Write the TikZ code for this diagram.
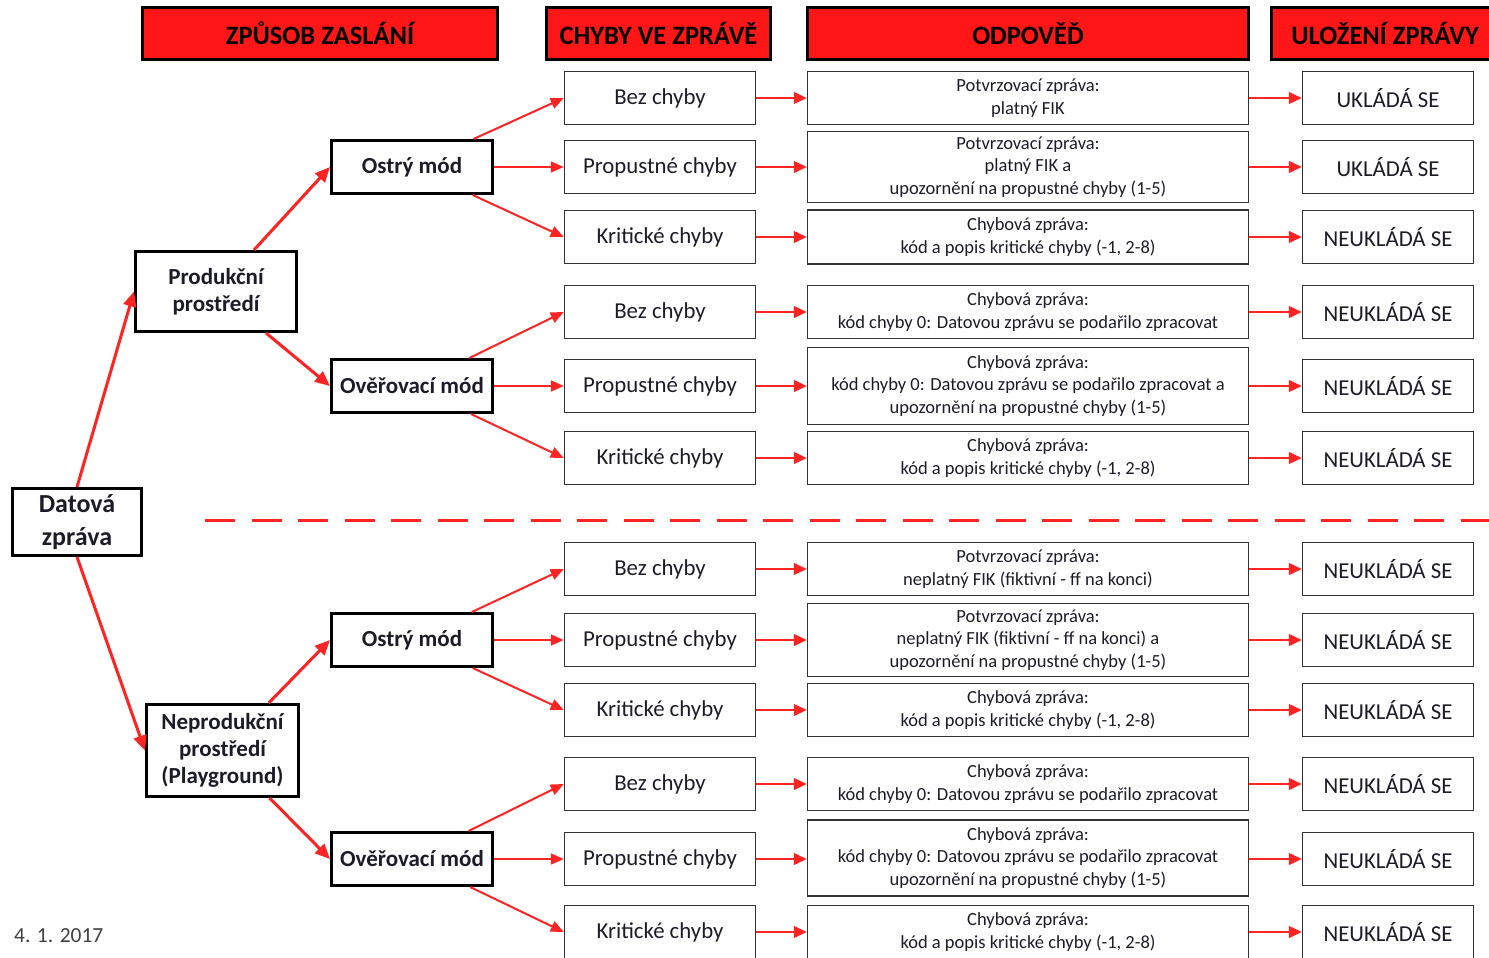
\documentclass[tikz,border=0pt]{standalone}
\usepackage{fontspec}
\setmainfont{Carlito}
\usetikzlibrary{arrows.meta}
\definecolor{hdrred}{RGB}{255,22,22}
\definecolor{arrred}{RGB}{255,36,36}
\definecolor{ink}{RGB}{28,28,40}
\tikzset{
  hdr/.style={draw=black,line width=3pt,fill=hdrred,minimum height=52pt,inner sep=0pt,
    font=\fontsize{26.5}{30}\selectfont\bfseries},
  envbox/.style={draw=black,line width=3pt,fill=white,align=center,inner sep=0pt,text=ink,
    font=\fontsize{23}{27}\selectfont\bfseries},
  errbox/.style={draw=black!80,line width=1.5pt,minimum width=191pt,minimum height=53pt,inner sep=0pt,
    text=ink,font=\fontsize{22.8}{26}\selectfont},
  respbox/.style={draw=black!80,line width=1.5pt,minimum width=441pt,align=center,inner sep=0pt,
    text=ink,font=\fontsize{18.5}{22.5}\selectfont},
  storebox/.style={draw=black!80,line width=1.5pt,minimum width=171pt,minimum height=53pt,inner sep=0pt,
    text=ink,font=\fontsize{22.8}{26}\selectfont},
  envarrow/.style={draw=arrred,line width=3pt,-{Triangle[length=15pt,width=13pt]}},
  modearrow/.style={draw=arrred,line width=2pt,-{Triangle[length=13pt,width=11pt]}},
  link/.style={draw=arrred,line width=1.5pt,-{Triangle[length=13pt,width=12pt]}},
}
\begin{document}
\begin{tikzpicture}[x=1pt,y=-1pt]
    \useasboundingbox (0,0) rectangle (1489,958);
    %% Headers
    \node[hdr,minimum width=355pt] (h1) at (320,33.5) {ZPŮSOB ZASLÁNÍ};
    \node[hdr,minimum width=224pt] (h2) at (658.5,33.5) {CHYBY VE ZPRÁVĚ};
    \node[hdr,minimum width=441pt] (h3) at (1028,33.5) {ODPOVĚĎ};
    \node[hdr,minimum width=228pt] (h4) at (1385,33.5) {ULOŽENÍ ZPRÁVY};
    %% Message and environments
    \node[envbox,minimum width=129pt,minimum height=67pt,font=\fontsize{26}{33}\selectfont\bfseries] (dat) at (77,522) {Datová\\zpráva};
    \node[envbox,minimum width=161pt,minimum height=80pt] (prod) at (216,291.5) {Produkční\\prostředí};
    \node[envbox,minimum width=152pt,minimum height=92pt] (neprod) at (222.5,750.5) {Neprodukční\\prostředí\\(Playground)};
    %% Modes
    \node[envbox,minimum width=161pt,minimum height=53pt] (m1) at (412,167) {Ostrý mód};
    \node[envbox,minimum width=161pt,minimum height=53pt] (m2) at (412,386) {Ověřovací mód};
    \node[envbox,minimum width=161pt,minimum height=53pt] (m3) at (412,640) {Ostrý mód};
    \node[envbox,minimum width=161pt,minimum height=53pt] (m4) at (412,859) {Ověřovací mód};
    %% Errors
    \foreach \i/\y/\lab in {1/98/Bez chyby,2/167/Propustné chyby,3/237/Kritické chyby,
                            4/312/Bez chyby,5/386/Propustné chyby,6/458/Kritické chyby,
                            7/569/Bez chyby,8/640/Propustné chyby,9/710/Kritické chyby,
                            10/784/Bez chyby,11/859/Propustné chyby,12/932/Kritické chyby}
        \node[errbox] (e\i) at (660,\y) {\lab};
    %% Responses
    \node[respbox,minimum height=53pt] (r1) at (1028,98) {Potvrzovací zpráva:\\platný FIK};
    \node[respbox,minimum height=71pt] (r2) at (1028,167) {Potvrzovací zpráva:\\platný FIK a\\upozornění na propustné chyby (1-5)};
    \node[respbox,minimum height=54pt] (r3) at (1028,237) {Chybová zpráva:\\kód a popis kritické chyby (-1, 2-8)};
    \node[respbox,minimum height=53pt] (r4) at (1028,312) {Chybová zpráva:\\kód chyby 0: Datovou zprávu se podařilo zpracovat};
    \node[respbox,minimum height=77pt] (r5) at (1028,386) {Chybová zpráva:\\kód chyby 0: Datovou zprávu se podařilo zpracovat a\\upozornění na propustné chyby (1-5)};
    \node[respbox,minimum height=53pt] (r6) at (1028,458) {Chybová zpráva:\\kód a popis kritické chyby (-1, 2-8)};
    \node[respbox,minimum height=53pt] (r7) at (1028,569) {Potvrzovací zpráva:\\neplatný FIK (fiktivní - ff na konci)};
    \node[respbox,minimum height=73pt] (r8) at (1028,640) {Potvrzovací zpráva:\\neplatný FIK (fiktivní - ff na konci) a\\upozornění na propustné chyby (1-5)};
    \node[respbox,minimum height=53pt] (r9) at (1028,710) {Chybová zpráva:\\kód a popis kritické chyby (-1, 2-8)};
    \node[respbox,minimum height=53pt] (r10) at (1028,784) {Chybová zpráva:\\kód chyby 0: Datovou zprávu se podařilo zpracovat};
    \node[respbox,minimum height=76pt] (r11) at (1028,858) {Chybová zpráva:\\kód chyby 0: Datovou zprávu se podařilo zpracovat\\upozornění na propustné chyby (1-5)};
    \node[respbox,minimum height=53pt] (r12) at (1028,932) {Chybová zpráva:\\kód a popis kritické chyby (-1, 2-8)};
    %% Storage
    \foreach \i/\y/\lab in {1/98/UKLÁDÁ SE,2/167/UKLÁDÁ SE,3/237/NEUKLÁDÁ SE,
                            4/312/NEUKLÁDÁ SE,5/386/NEUKLÁDÁ SE,6/458/NEUKLÁDÁ SE,
                            7/569/NEUKLÁDÁ SE,8/640/NEUKLÁDÁ SE,9/710/NEUKLÁDÁ SE,
                            10/784/NEUKLÁDÁ SE,11/859/NEUKLÁDÁ SE,12/932/NEUKLÁDÁ SE}
        \node[storebox] (s\i) at (1388,\y) {\lab};
    %% Arrows: message -> environment -> mode
    \draw[envarrow] (dat.north) -- (prod.west);
    \draw[envarrow] (dat.south) -- (neprod.west);
    \draw[envarrow] (prod) -- (m1.west);
    \draw[envarrow] (prod) -- (m2.west);
    \draw[envarrow] (neprod) -- (m3.west);
    \draw[envarrow] (neprod) -- (m4.west);
    %% Arrows: mode -> errors
    \foreach \m/\a/\b/\c in {1/1/2/3,2/4/5/6,3/7/8/9,4/10/11/12} {
        \draw[modearrow] (m\m) -- (e\a.west);
        \draw[modearrow] (m\m) -- (e\b);
        \draw[modearrow] (m\m) -- (e\c.west);
    }
    %% Arrows: errors -> responses -> storage
    \foreach \i in {1,...,12} {
        \draw[link] (e\i) -- (r\i.west |- e\i);
        \draw[link] (r\i.east |- s\i) -- (s\i);
    }
    %% Separator
    \draw[arrred,line width=3pt,dash pattern=on 30pt off 16.5pt] (205,520) -- (1510,520);
    %% Date
    \node[anchor=west,inner sep=0pt,text=black!75,font=\fontsize{21.5}{24}\selectfont] (date) at (14,936) {4. 1. 2017};
\end{tikzpicture}
\end{document}
